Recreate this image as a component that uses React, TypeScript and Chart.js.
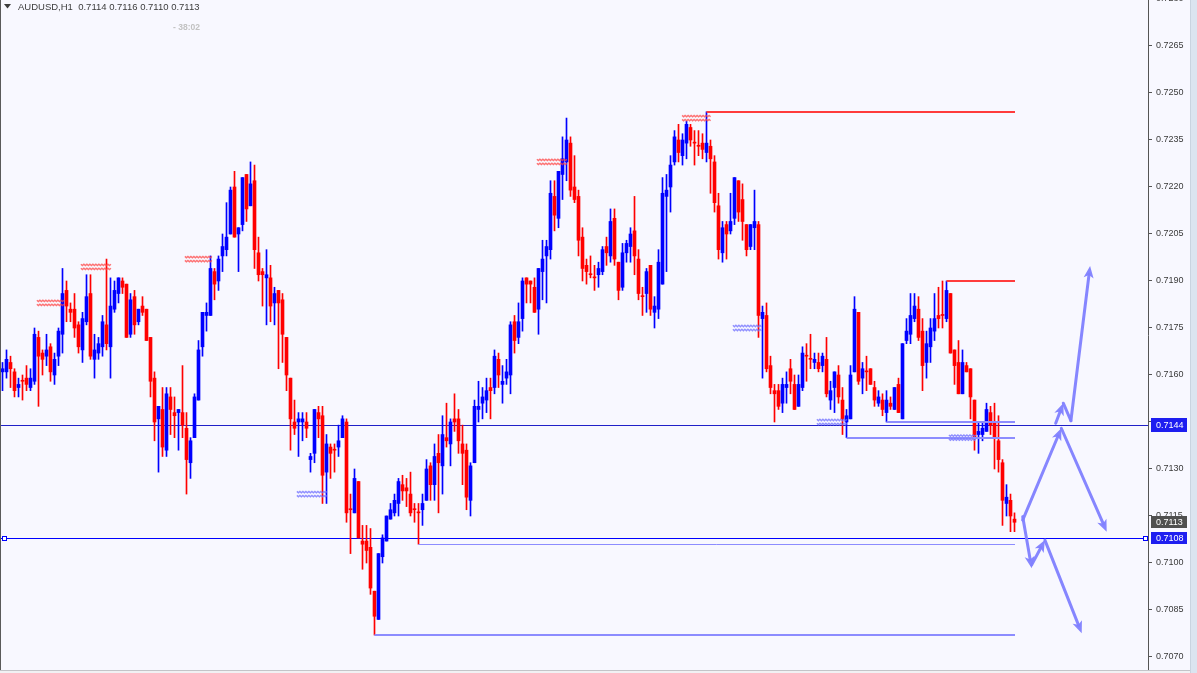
import React, { useEffect, useRef } from 'react';
import { Chart, registerables } from 'chart.js';

Chart.register(...registerables);

const SYMBOL = 'AUDUSD,H1';
const COUNTDOWN = '- 38:02';

const openP = [
  0.7161,0.7161,0.7164,0.7161,0.7156,0.7158,0.7159,0.7156,0.7158,0.7172,
  0.7167,0.7166,0.7169,0.7160,0.7166,0.7173,0.7187,0.7181,0.7181,0.7176,
  0.7168,0.7177,0.7186,0.7165,0.7167,0.7169,0.7176,0.7169,0.7181,0.7186,
  0.7190,0.7189,0.7173,0.7185,0.7177,0.7182,0.7181,0.7172,0.7159,0.7146,
  0.7149,0.7136,0.7153,0.7148,0.7148,0.7148,0.7143,0.7132,0.7140,0.7152,
  0.7169,0.7179,0.7179,0.7193,0.7190,0.7198,0.7200,0.7205,0.7220,0.7205,
  0.7208,0.7224,0.7214,0.7222,0.7199,0.7193,0.7191,0.7191,0.7183,0.7187,
  0.7184,0.7172,0.7159,0.7145,0.7145,0.7145,0.7145,0.7133,0.7135,0.7148,
  0.7147,0.7129,0.7137,0.7136,0.7137,0.7140,0.7145,0.7117,0.7116,0.7126,
  0.7107,0.7107,0.7105,0.7091,0.7082,0.7102,0.7107,0.7114,0.7116,0.7119,
  0.7125,0.7124,0.7122,0.7117,0.7116,0.7117,0.7120,0.7131,0.7125,0.7135,
  0.7131,0.7140,0.7138,0.7146,0.7146,0.7138,0.7136,0.7120,0.7132,0.7149,
  0.7151,0.7152,0.7156,0.7156,0.7165,0.7157,0.7159,0.7160,0.7177,0.7172,
  0.7178,0.7191,0.7190,0.7188,0.7181,0.7193,0.7198,0.7200,0.7217,0.7210,
  0.7224,0.7228,0.7234,0.7220,0.7217,0.7204,0.7195,0.7192,0.7191,0.7192,
  0.7193,0.7201,0.7198,0.7210,0.7196,0.7188,0.7199,0.7201,0.7206,0.7197,
  0.7185,0.7186,0.7195,0.7180,0.7181,0.7189,0.7217,0.7220,0.7228,0.7235,
  0.7230,0.7234,0.7239,0.7234,0.7233,0.7234,0.7231,0.7233,0.7228,0.7214,
  0.7199,0.7208,0.7206,0.7210,0.7222,0.7216,0.7208,0.7201,0.7207,0.7208,
  0.7178,0.7179,0.7163,0.7155,0.7155,0.7151,0.7156,0.7162,0.7157,0.7150,
  0.7156,0.7166,0.7165,0.7164,0.7164,0.7163,0.7165,0.7152,0.7156,0.7160,
  0.7152,0.7145,0.7146,0.7161,0.7180,0.7159,0.7161,0.7162,0.7156,0.7151,
  0.7152,0.7148,0.7151,0.7149,0.7157,0.7146,0.7171,0.7173,0.7178,0.7181,
  0.7174,0.7164,0.7169,0.7174,0.7179,0.7179,0.7178,0.7186,0.7168,0.7164,
  0.7154,0.7163,0.7162,0.7152,0.7141,0.7141,0.7142,0.7148,0.7145,0.7139,
  0.7132,0.7119,0.7120,0.7114,
];

const highP = [
  0.7164,0.7168,0.7166,0.7162,0.7159,0.7160,0.7163,0.7162,0.7175,0.7174,
  0.7168,0.7173,0.7170,0.7167,0.7175,0.7194,0.7190,0.7183,0.7186,0.7177,
  0.7180,0.7192,0.7192,0.7173,0.7172,0.7179,0.7197,0.7191,0.7190,0.7191,
  0.7191,0.7189,0.7186,0.7187,0.7181,0.7185,0.7181,0.7172,0.7161,0.7150,
  0.7156,0.7156,0.7156,0.7153,0.7149,0.7163,0.7148,0.7140,0.7154,0.7171,
  0.7180,0.7183,0.7198,0.7194,0.7198,0.7205,0.7215,0.7220,0.7225,0.7207,
  0.7223,0.7224,0.7228,0.7227,0.7204,0.7194,0.7200,0.7195,0.7188,0.7187,
  0.7186,0.7172,0.7159,0.7152,0.7148,0.7148,0.7148,0.7135,0.7149,0.7150,
  0.7150,0.7141,0.7138,0.7138,0.7144,0.7147,0.7146,0.7122,0.7130,0.7126,
  0.7112,0.7112,0.7111,0.7091,0.7103,0.7109,0.7115,0.7119,0.7122,0.7127,
  0.7128,0.7127,0.7129,0.7119,0.7119,0.7122,0.7133,0.7132,0.7138,0.7141,
  0.7147,0.7151,0.7146,0.7154,0.7149,0.7144,0.7138,0.7132,0.7152,0.7158,
  0.7156,0.7159,0.7159,0.7168,0.7167,0.7163,0.7165,0.7177,0.7179,0.7183,
  0.7191,0.7191,0.7190,0.7191,0.7194,0.7203,0.7203,0.7222,0.7222,0.7225,
  0.7236,0.7242,0.7236,0.7230,0.7219,0.7207,0.7197,0.7198,0.7195,0.7196,
  0.7201,0.7204,0.7213,0.7213,0.7196,0.7202,0.7203,0.7207,0.7217,0.7200,
  0.7188,0.7194,0.7195,0.7185,0.7200,0.7223,0.7224,0.7230,0.7238,0.7240,
  0.7237,0.7241,0.7240,0.7238,0.7238,0.7237,0.7244,0.7235,0.7230,0.7218,
  0.7209,0.7209,0.7218,0.7223,0.7222,0.7221,0.7208,0.7208,0.7219,0.7209,
  0.7182,0.7183,0.7166,0.7157,0.7157,0.7159,0.7161,0.7165,0.7160,0.7160,
  0.7169,0.7170,0.7173,0.7167,0.7167,0.7167,0.7172,0.7158,0.7161,0.7163,
  0.7156,0.7149,0.7163,0.7185,0.7180,0.7164,0.7166,0.7162,0.7158,0.7155,
  0.7154,0.7155,0.7153,0.7156,0.7159,0.7170,0.7178,0.7186,0.7186,0.7185,
  0.7178,0.7174,0.7178,0.7186,0.7188,0.7190,0.7190,0.7186,0.7168,0.7171,
  0.7168,0.7164,0.7162,0.7152,0.7145,0.7145,0.7151,0.7150,0.7151,0.7147,
  0.7133,0.7125,0.7122,0.7116,
];

const lowP = [
  0.7155,0.7159,0.7156,0.7153,0.7153,0.7152,0.7155,0.7155,0.7157,0.7150,
  0.7160,0.7163,0.7158,0.7157,0.7163,0.7167,0.7177,0.7177,0.7172,0.7167,
  0.7164,0.7176,0.7165,0.7159,0.7165,0.7166,0.7168,0.7159,0.7180,0.7183,
  0.7186,0.7172,0.7172,0.7173,0.7176,0.7179,0.7171,0.7153,0.7139,0.7129,
  0.7134,0.7134,0.7141,0.7140,0.7136,0.7140,0.7122,0.7127,0.7140,0.7152,
  0.7166,0.7174,0.7179,0.7184,0.7187,0.7193,0.7198,0.7205,0.7204,0.7193,
  0.7206,0.7209,0.7214,0.7194,0.7190,0.7182,0.7176,0.7177,0.7176,0.7162,
  0.7164,0.7155,0.7136,0.7141,0.7134,0.7139,0.7140,0.7129,0.7132,0.7140,
  0.7119,0.7119,0.7127,0.7129,0.7134,0.7140,0.7113,0.7103,0.7116,0.7108,
  0.7098,0.7100,0.7090,0.7077,0.7082,0.7100,0.7107,0.7114,0.7115,0.7115,
  0.7120,0.7118,0.7115,0.7113,0.7106,0.7112,0.7120,0.7120,0.7120,0.7116,
  0.7122,0.7137,0.7131,0.7142,0.7135,0.7125,0.7117,0.7115,0.7132,0.7145,
  0.7146,0.7148,0.7146,0.7154,0.7156,0.7151,0.7157,0.7154,0.7167,0.7170,
  0.7174,0.7183,0.7183,0.7180,0.7173,0.7184,0.7183,0.7197,0.7206,0.7207,
  0.7216,0.7222,0.7217,0.7215,0.7198,0.7190,0.7189,0.7191,0.7187,0.7188,
  0.7192,0.7195,0.7196,0.7195,0.7184,0.7187,0.7196,0.7196,0.7192,0.7184,
  0.7179,0.7180,0.7179,0.7175,0.7178,0.7189,0.7193,0.7212,0.7227,0.7228,
  0.7227,0.7229,0.7233,0.7227,0.7230,0.7229,0.7228,0.7218,0.7212,0.7197,
  0.7196,0.7197,0.7205,0.7208,0.7209,0.7203,0.7198,0.7200,0.7200,0.7172,
  0.7159,0.7161,0.7154,0.7145,0.7149,0.7148,0.7151,0.7154,0.7149,0.7150,
  0.7155,0.7158,0.7162,0.7162,0.7161,0.7161,0.7153,0.7149,0.7148,0.7151,
  0.7141,0.7140,0.7146,0.7161,0.7157,0.7154,0.7155,0.7157,0.7150,0.7150,
  0.7147,0.7145,0.7149,0.7149,0.7148,0.7146,0.7170,0.7170,0.7177,0.7171,
  0.7155,0.7159,0.7164,0.7171,0.7175,0.7175,0.7177,0.7167,0.7157,0.7154,
  0.7154,0.7161,0.7146,0.7136,0.7135,0.7139,0.7142,0.7141,0.7130,0.7129,
  0.7112,0.7115,0.7110,0.7110,
];

const closeP = [
  0.7162,0.7165,0.7162,0.7155,0.7157,0.7158,0.7157,0.7159,0.7173,0.7166,
  0.7165,0.7168,0.7161,0.7165,0.7174,0.7186,0.7182,0.7180,0.7175,0.7169,
  0.7178,0.7185,0.7166,0.7168,0.7170,0.7177,0.7170,0.7182,0.7187,0.7191,
  0.7188,0.7172,0.7184,0.7176,0.7181,0.7180,0.7171,0.7158,0.7145,0.7150,
  0.7137,0.7154,0.7149,0.7147,0.7149,0.7144,0.7133,0.7139,0.7153,0.7168,
  0.7180,0.7180,0.7194,0.7189,0.7197,0.7201,0.7204,0.7219,0.7204,0.7207,
  0.7223,0.7213,0.7221,0.7200,0.7192,0.7192,0.7192,0.7182,0.7186,0.7183,
  0.7173,0.7160,0.7146,0.7143,0.7146,0.7146,0.7143,0.7134,0.7149,0.7146,
  0.7128,0.7138,0.7135,0.7136,0.7139,0.7146,0.7116,0.7117,0.7127,0.7108,
  0.7106,0.7104,0.7092,0.7083,0.7103,0.7108,0.7115,0.7117,0.7120,0.7126,
  0.7123,0.7123,0.7116,0.7117,0.7116,0.7119,0.7130,0.7125,0.7134,0.7132,
  0.7141,0.7139,0.7145,0.7145,0.7139,0.7135,0.7121,0.7131,0.7150,0.7150,
  0.7153,0.7155,0.7155,0.7166,0.7160,0.7158,0.7161,0.7176,0.7171,0.7177,
  0.7190,0.7189,0.7189,0.7180,0.7194,0.7197,0.7201,0.7218,0.7211,0.7225,
  0.7229,0.7235,0.7219,0.7216,0.7203,0.7194,0.7193,0.7192,0.7191,0.7194,
  0.7200,0.7199,0.7209,0.7197,0.7187,0.7199,0.7202,0.7205,0.7198,0.7186,
  0.7185,0.7193,0.7181,0.7182,0.7196,0.7218,0.7219,0.7227,0.7236,0.7231,
  0.7235,0.7240,0.7235,0.7234,0.7233,0.7232,0.7234,0.7229,0.7215,0.7200,
  0.7207,0.7205,0.7209,0.7223,0.7212,0.7209,0.7200,0.7208,0.7209,0.7179,
  0.7180,0.7162,0.7156,0.7154,0.7150,0.7157,0.7157,0.7158,0.7149,0.7157,
  0.7167,0.7166,0.7165,0.7165,0.7162,0.7166,0.7154,0.7155,0.7161,0.7153,
  0.7146,0.7147,0.7160,0.7181,0.7158,0.7162,0.7161,0.7157,0.7152,0.7153,
  0.7149,0.7152,0.7150,0.7156,0.7148,0.7170,0.7174,0.7179,0.7182,0.7172,
  0.7163,0.7170,0.7175,0.7178,0.7178,0.7179,0.7187,0.7167,0.7163,0.7154,
  0.7164,0.7161,0.7153,0.7140,0.7142,0.7143,0.7149,0.7144,0.7140,0.7133,
  0.7120,0.7121,0.7115,0.7113,
];

// price axis
const yTicks = [0.7070,0.7085,0.7100,0.7115,0.7130,0.7145,0.7160,0.7175,0.7190,0.7205,0.7220,0.7235,0.7250,0.7265,0.7280];
const Y_MIN = 0.706585;
const Y_MAX = 0.727968;
// bar slots (candles + empty future space)
const X_MIN = -0.625;
const X_MAX = 286.375;

// full-width horizontal lines
const hLinePrices = [0.7144, 0.7108];
const hLineColors = ['#2020c8', '#0000ff'];
const lastPrice = closeP[closeP.length - 1];

// level segments (start candle -> last candle)
const levelPrices = [0.7244, 0.7190, 0.7145, 0.7140, 0.7106, 0.7077];
const levelStart = [176, 236, 221, 211, 104, 93];
const levelColors = ['#ff3c3c', '#ff3c3c', '#8c8cff', '#8c8cff', '#8c8cff', '#8c8cff'];
const levelWidths = [2, 2, 2, 2, 1, 2];

// hatched price markers
const markerFrom = [8.6, 19.6, 45.6, 133.6, 169.9, 73.6, 182.6, 203.6, 236.6];
const markerTo = [15.6, 27.1, 52.6, 141.1, 177.1, 81.1, 189.9, 211.1, 243.6];
const markerPrice = [0.7183, 0.71945, 0.7197, 0.7228, 0.7242, 0.7122, 0.7175, 0.7145, 0.7140];
const markerSide = ['r', 'r', 'r', 'r', 'r', 'b', 'b', 'b', 'b'];

// projection arrows (candle index, price)
const arrowX1 = [255.05, 264.7, 263.3, 265.2, 267.1, 255.05, 257.3, 260.6];
const arrowY1 = [0.71137, 0.71430, 0.71446, 0.71510, 0.71454, 0.71148, 0.70994, 0.71073];
const arrowX2 = [264.7, 276.05, 265.2, 267.1, 271.9, 257.3, 260.6, 269.8];
const arrowY2 = [0.71430, 0.71100, 0.71510, 0.71454, 0.71948, 0.70983, 0.71073, 0.70776];
const arrowHead = [true, true, true, false, true, true, true, true];

const BULL = '#0000ff';
const BEAR = '#ff0000';

const fmt = (v: number) => v.toFixed(4);

function drawArrow(ctx: CanvasRenderingContext2D, x1: number, y1: number, x2: number, y2: number, head: boolean) {
  const ang = Math.atan2(y2 - y1, x2 - x1);
  const c = Math.cos(ang), s = Math.sin(ang);
  const hl = 12, hw = 5;
  const ex = head ? x2 - c * hl * 0.7 : x2;
  const ey = head ? y2 - s * hl * 0.7 : y2;
  ctx.beginPath();
  ctx.moveTo(x1, y1);
  ctx.lineTo(ex, ey);
  ctx.stroke();
  if (head) {
    ctx.beginPath();
    ctx.moveTo(x2, y2);
    ctx.lineTo(x2 - c * hl + s * hw, y2 - s * hl - c * hw);
    ctx.lineTo(x2 - c * hl * 0.75, y2 - s * hl * 0.75);
    ctx.lineTo(x2 - c * hl - s * hw, y2 - s * hl + c * hw);
    ctx.closePath();
    ctx.fill();
  }
}

const overlay = {
  id: 'mtOverlay',
  beforeDraw(chart: any) {
    const { ctx, width, height } = chart;
    ctx.save();
    ctx.fillStyle = '#f8f8ff';
    ctx.fillRect(0, 0, width, height);
    ctx.fillStyle = '#dbe4f0';
    ctx.fillRect(1190, 0, width - 1190, height);
    ctx.fillStyle = '#c9d3e0';
    ctx.fillRect(1190, 0, 1, height);
    ctx.restore();
  },
  beforeDatasetsDraw(chart: any) {
    const { ctx, chartArea, scales } = chart;
    const ys = scales.y;
    ctx.save();
    hLinePrices.forEach((p, i) => {
      const y = Math.round(ys.getPixelForValue(p)) + 0.5;
      ctx.strokeStyle = hLineColors[i];
      ctx.lineWidth = 1;
      ctx.beginPath();
      ctx.moveTo(chartArea.left, y);
      ctx.lineTo(chartArea.right, y);
      ctx.stroke();
    });
    ctx.restore();
  },
  afterDatasetsDraw(chart: any) {
    const { ctx, scales } = chart;
    const xs = scales.x, ys = scales.y;
    const lastIdx = closeP.length - 1;
    ctx.save();
    // level segments
    levelPrices.forEach((p, i) => {
      const x1 = xs.getPixelForValue(levelStart[i]);
      const x2 = xs.getPixelForValue(lastIdx) + 0.5;
      let y = ys.getPixelForValue(p);
      y = levelWidths[i] === 1 ? Math.round(y) + 0.5 : Math.round(y);
      ctx.strokeStyle = levelColors[i];
      ctx.lineWidth = levelWidths[i];
      ctx.beginPath();
      ctx.moveTo(x1, y);
      ctx.lineTo(x2, y);
      ctx.stroke();
    });
    // hatched markers
    markerFrom.forEach((f, i) => {
      const x1 = xs.getPixelForValue(f);
      const x2 = xs.getPixelForValue(markerTo[i]);
      const y = ys.getPixelForValue(markerPrice[i]);
      ctx.strokeStyle = markerSide[i] === 'r' ? 'rgba(255,70,70,0.75)' : 'rgba(110,110,255,0.75)';
      ctx.lineWidth = 1.4;
      [-2, 2].forEach((dy) => {
        ctx.beginPath();
        let up = true;
        for (let x = x1; x <= x2; x += 1.5) {
          const yy = y + dy + (up ? -0.7 : 0.7);
          if (x === x1) ctx.moveTo(x, yy); else ctx.lineTo(x, yy);
          up = !up;
        }
        ctx.stroke();
      });
    });
    // arrows
    ctx.strokeStyle = 'rgba(128,128,255,0.95)';
    ctx.fillStyle = 'rgba(128,128,255,0.95)';
    ctx.lineWidth = 3;
    ctx.lineCap = 'round';
    arrowX1.forEach((ax, i) => {
      drawArrow(ctx,
        xs.getPixelForValue(ax), ys.getPixelForValue(arrowY1[i]),
        xs.getPixelForValue(arrowX2[i]), ys.getPixelForValue(arrowY2[i]),
        arrowHead[i]);
    });
    ctx.restore();
  },
  afterDraw(chart: any) {
    const { ctx, chartArea, scales, height } = chart;
    const ys = scales.y;
    ctx.save();
    // frame
    ctx.fillStyle = '#5a5a5a';
    ctx.fillRect(0, 0, 1, chartArea.bottom);
    ctx.fillStyle = '#f1f1f3';
    ctx.fillRect(0, chartArea.bottom, 1190, height - chartArea.bottom);
    ctx.fillStyle = '#c4c4c8';
    ctx.fillRect(0, chartArea.bottom, 1190, 1);

    // square handles of the 0.7108 line
    const yh = Math.round(ys.getPixelForValue(hLinePrices[1])) + 0.5;
    ctx.strokeStyle = '#0000ff';
    ctx.fillStyle = '#ffffff';
    ctx.lineWidth = 1;
    [chartArea.left + 2.5, chartArea.right - 4.5].forEach((x) => {
      ctx.fillRect(x, yh - 2, 4, 4);
      ctx.strokeRect(x, yh - 2, 4, 4);
    });

    // price boxes on axis
    const boxes: [number, string, number][] = [
      [hLinePrices[0], '#1e1ef0', 14],
      [lastPrice, '#505050', 12],
      [hLinePrices[1], '#1e1ef0', 12],
    ];
    ctx.font = '9px "Liberation Sans"';
    ctx.textBaseline = 'middle';
    ctx.textAlign = 'left';
    boxes.forEach(([p, bg, h]) => {
      const y = Math.round(ys.getPixelForValue(p));
      const x = chartArea.right + 3;
      ctx.fillStyle = bg;
      ctx.fillRect(x, y - Math.ceil(h / 2), 36, h);
      ctx.fillStyle = '#ffffff';
      ctx.fillText(fmt(p), x + 5, y + 0.5);
    });

    // header
    const li = closeP.length - 1;
    ctx.fillStyle = '#3c3c3c';
    ctx.beginPath();
    ctx.moveTo(4, 4);
    ctx.lineTo(11, 4);
    ctx.lineTo(7.5, 8.5);
    ctx.closePath();
    ctx.fill();
    ctx.font = '9.5px "Liberation Sans"';
    ctx.textBaseline = 'alphabetic';
    ctx.fillText(`${SYMBOL}  ${fmt(openP[li])} ${fmt(highP[li])} ${fmt(lowP[li])} ${fmt(closeP[li])}`, 18, 10, 182);
    ctx.fillStyle = '#c2c2c2';
    ctx.font = 'bold 9px "Liberation Sans"';
    ctx.fillText(COUNTDOWN, 173, 29.5, 27);
    ctx.restore();
  },
};

export default function App() {
  const canvasRef = useRef<HTMLCanvasElement | null>(null);

  useEffect(() => {
    const canvas = canvasRef.current;
    if (!canvas) return;
    const colors = openP.map((o, i) => (closeP[i] > o ? BULL : BEAR));
    const wickData = lowP.map((l, i) => ({ x: i, y: [l, highP[i]] }));
    const bodyData = openP.map((o, i) => ({ x: i, y: [o, closeP[i]] }));

    const chart = new Chart(canvas, {
      type: 'bar',
      data: {
        datasets: [
          {
            label: 'wick',
            data: wickData as any,
            backgroundColor: colors,
            borderWidth: 0,
            barThickness: 1,
            grouped: false,
            minBarLength: 1,
          } as any,
          {
            label: 'body',
            data: bodyData as any,
            backgroundColor: colors,
            borderWidth: 0,
            barThickness: 3,
            grouped: false,
            minBarLength: 1,
          } as any,
        ],
      },
      options: {
        responsive: false,
        animation: false,
        events: [],
        layout: { padding: { left: 0, right: 0, top: 0, bottom: 3 }, autoPadding: false } as any,
        plugins: {
          legend: { display: false },
          tooltip: { enabled: false },
          title: { display: false },
        },
        scales: {
          x: {
            type: 'linear',
            min: X_MIN,
            max: X_MAX,
            display: false,
            offset: false,
          },
          y: {
            type: 'linear',
            position: 'right',
            min: Y_MIN,
            max: Y_MAX,
            afterBuildTicks: (s: any) => {
              s.ticks = yTicks.map((v) => ({ value: v }));
            },
            afterFit: (s: any) => {
              s.width = 49;
              s.paddingTop = 0;
              s.paddingBottom = 0;
            },
            ticks: {
              autoSkip: false,
              padding: 4,
              color: '#3a3a3a',
              font: { family: 'Liberation Sans', size: 9 },
              callback: (v: any) => Number(v).toFixed(4),
            },
            grid: {
              display: true,
              drawOnChartArea: false,
              drawTicks: true,
              tickLength: 4,
              color: '#555555',
            },
            border: { display: true, color: '#555555', width: 1 },
          } as any,
        },
      } as any,
      plugins: [overlay],
    });
    return () => chart.destroy();
  }, []);

  return (
    <canvas
      ref={canvasRef}
      width={1197}
      height={673}
      style={{ position: 'fixed', left: 0, top: 0, display: 'block', width: 1197, height: 673 }}
    />
  );
}
